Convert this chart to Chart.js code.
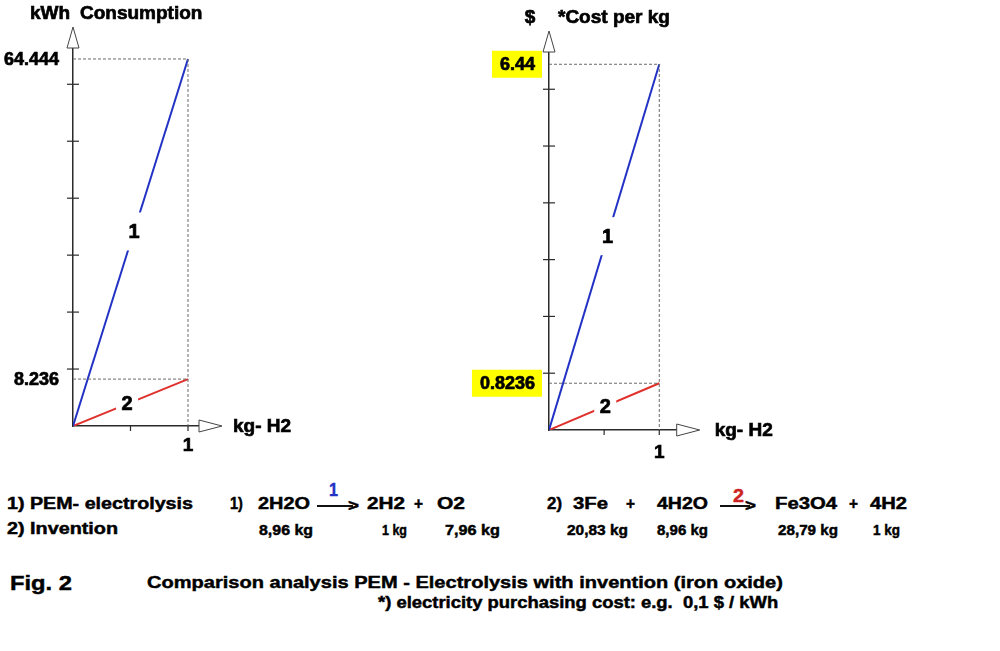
<!DOCTYPE html>
<html>
<head>
<meta charset="utf-8">
<script src="https://cdn.jsdelivr.net/npm/chart.js@4.4.1/dist/chart.umd.min.js"></script>
<style>
  html, body { margin: 0; padding: 0; background: #fff; }
  body { width: 1000px; height: 651px; position: relative; overflow: hidden; font-family: "Liberation Sans", Arial, sans-serif; }
  canvas { position: absolute; top: 0; }
  #kwhChart { left: 0; }
  #costChart { left: 460px; }
  .txt { position: absolute; white-space: pre; font-weight: bold; transform-origin: 0 50%; -webkit-text-stroke: 0.45px currentColor; }
  .shaft { position: absolute; height: 1.6px; background: #111; }
</style>
</head>
<body>
<canvas id="kwhChart" width="320" height="470"></canvas>
<canvas id="costChart" width="340" height="470"></canvas>

<script>
// values
const kgH2 = [0, 1];
const pemKwh = [0, 64.444];
const inventionKwh = [0, 8.236];
const pemCost = [0, 6.44];
const inventionCost = [0, 0.8236];
const kwhTicks = [10, 20, 30, 40, 50, 60];
const costTicks = [1, 2, 3, 4, 5, 6];
const kgTicks = [0.5, 1];
const kwhLabels = ["64.444", "8.236"];
const costLabels = ["6.44", "0.8236"];

const BLUE = "#2232c4";
const RED = "#e0302c";
const AXIS = "#2a2a2a";
const FONT = '"Liberation Sans", Arial, sans-serif';

// heavier text, the figure's lettering is quite thick
function boldText(ctx, text, x, y) {
  ctx.lineWidth = 0.7;
  ctx.strokeStyle = ctx.fillStyle;
  ctx.strokeText(text, x, y);
  ctx.fillText(text, x, y);
}

// draws the arrows, cross ticks, value labels and the "1"/"2" line labels
const sketchPlugin = {
  id: "sketch",
  afterDraw(chart, args, opts) {
    const ctx = chart.ctx;
    const xs = chart.scales.x, ys = chart.scales.y;
    const area = chart.chartArea;
    const x0 = xs.getPixelForValue(0), y0 = ys.getPixelForValue(0);

    ctx.save();
    ctx.strokeStyle = AXIS;
    ctx.lineWidth = 1.2;

    // y ticks crossing the axis
    opts.yTicks.forEach(v => {
      const y = ys.getPixelForValue(v);
      ctx.beginPath();
      ctx.moveTo(x0 - 6, y);
      ctx.lineTo(x0 + 6, y);
      ctx.stroke();
    });
    // x ticks below the axis
    kgTicks.forEach(v => {
      const x = xs.getPixelForValue(v);
      ctx.beginPath();
      ctx.moveTo(x, y0);
      ctx.lineTo(x, y0 + 5);
      ctx.stroke();
    });

    // open arrow heads
    ctx.fillStyle = "#fff";
    ctx.strokeStyle = "#444";
    ctx.lineWidth = 1;
    ctx.beginPath();
    ctx.moveTo(x0 - 6, area.top);
    ctx.lineTo(x0 + 6, area.top);
    ctx.lineTo(x0, area.top - 21);
    ctx.closePath();
    ctx.fill();
    ctx.stroke();
    ctx.beginPath();
    ctx.moveTo(area.right, y0 - 6);
    ctx.lineTo(area.right, y0 + 6);
    ctx.lineTo(area.right + 23, y0);
    ctx.closePath();
    ctx.fill();
    ctx.stroke();

    // value labels on the y axis
    ctx.font = "bold 18px " + FONT;
    ctx.textBaseline = "middle";
    ctx.textAlign = "right";
    opts.values.forEach((v, i) => {
      const y = ys.getPixelForValue(v);
      const right = x0 - 14;
      const w = ctx.measureText(opts.valueLabels[i]).width;
      if (opts.boxed) {
        ctx.fillStyle = "#ffff00";
        ctx.fillRect(right - w - 8, y - 13.5, w + 15, 27);
      }
      ctx.fillStyle = "#000";
      boldText(ctx, opts.valueLabels[i], right, y + 1);
    });

    // axis titles
    ctx.font = "bold 19px " + FONT;
    opts.titles.forEach(t => {
      ctx.textAlign = t.align || "left";
      boldText(ctx, t.text, t.x, t.y);
    });
    ctx.textAlign = "center";
    boldText(ctx, "1", xs.getPixelForValue(1), y0 + opts.oneGap);
    ctx.textAlign = "left";
    boldText(ctx, "kg- H2", area.right + 23 + opts.kgGap, y0 + 1);

    // line labels sitting in a gap of the line
    ctx.font = "bold 20px " + FONT;
    ctx.textAlign = "center";
    opts.lineLabels.forEach(l => {
      const pts = chart.getDatasetMeta(l.dataset).data;
      const px = pts[0].x + (pts[1].x - pts[0].x) * l.t;
      const py = pts[0].y + (pts[1].y - pts[0].y) * l.t;
      ctx.fillStyle = "#fff";
      ctx.fillRect(px - 11, py - 19, 22, 38);
      ctx.fillStyle = "#000";
      boldText(ctx, l.text, px, py + 1);
    });
    ctx.restore();
  }
};

function buildChart(id, pem, inv, cfg) {
  const guide = { borderColor: "#6a6a6a", borderWidth: 1, borderDash: [3, 2], pointRadius: 0, fill: false };
  const line = { borderWidth: 2, pointRadius: 0, fill: false, tension: 0 };
  const axis = {
    type: "linear",
    min: 0,
    ticks: { display: false },
    grid: { display: false, drawTicks: false },
    border: { display: true, color: AXIS, width: 1.5 }
  };
  return new Chart(document.getElementById(id).getContext("2d"), {
    type: "line",
    data: {
      datasets: [
        Object.assign({ data: [{ x: 0, y: pem[1] }, { x: kgH2[1], y: pem[1] }, { x: kgH2[1], y: 0 }] }, guide),
        Object.assign({ data: [{ x: 0, y: inv[1] }, { x: kgH2[1], y: inv[1] }] }, guide),
        Object.assign({ label: "1", data: kgH2.map((x, i) => ({ x: x, y: pem[i] })), borderColor: BLUE }, line),
        Object.assign({ label: "2", data: kgH2.map((x, i) => ({ x: x, y: inv[i] })), borderColor: RED }, line)
      ]
    },
    options: {
      responsive: false,
      animation: false,
      events: [],
      layout: { padding: cfg.padding },
      plugins: {
        legend: { display: false },
        tooltip: { enabled: false },
        sketch: Object.assign({ values: [pem[1], inv[1]] }, cfg)
      },
      scales: {
        x: Object.assign({}, axis, { max: cfg.xMax }),
        y: Object.assign({}, axis, { max: cfg.yMax })
      }
    },
    plugins: [sketchPlugin]
  });
}

buildChart("kwhChart", pemKwh, inventionKwh, {
  padding: { left: 73, top: 48, right: 121, bottom: 44 },
  xMax: 1.0957, yMax: 66.37,
  yTicks: kwhTicks, valueLabels: kwhLabels, boxed: false,
  titles: [{ text: "kWh", x: 30, y: 14 }, { text: "Consumption", x: 80, y: 14 }],
  oneGap: 20, kgGap: 11,
  lineLabels: [{ dataset: 2, text: "1", t: 0.53 }, { dataset: 3, text: "2", t: 0.47 }]
});

buildChart("costChart", pemCost, inventionCost, {
  padding: { left: 89, top: 52, right: 123.3, bottom: 40 },
  xMax: 1.158, yMax: 6.656,
  yTicks: costTicks, valueLabels: costLabels, boxed: true,
  titles: [{ text: "$", x: 70, y: 18, align: "center" }, { text: "*Cost per kg", x: 98, y: 18 }],
  oneGap: 23, kgGap: 15,
  lineLabels: [{ dataset: 2, text: "1", t: 0.53 }, { dataset: 3, text: "2", t: 0.51 }]
});

// reaction equations and caption, each stretched to the width it has in the figure
const notes = [
  ["1) PEM- electrolysis", 7, 193, 504, 16],
  ["2) Invention", 7, 118, 529, 16],
  ["1)", 230, 243, 504, 16],
  ["2H2O", 258, 310, 504, 16],
  ["1", 329, 338, 490, 18, BLUE],
  [">", 348, 359, 506, 17],
  ["2H2", 367, 405, 504, 16],
  ["+", 414, 423, 504, 16],
  ["O2", 437, 465, 504, 16],
  ["8,96 kg", 259, 313, 530, 14],
  ["1 kg", 382, 407, 530, 14],
  ["7,96 kg", 445, 500, 530, 14],
  ["2)", 547, 562, 504, 16],
  ["3Fe", 573, 608, 504, 16],
  ["+", 626, 635, 504, 16],
  ["4H2O", 657, 708, 504, 16],
  ["2", 733, 744, 496, 18, "#cc2222"],
  [">", 745, 756, 506, 17],
  ["Fe3O4", 775, 837, 504, 16],
  ["+", 849, 858, 504, 16],
  ["4H2", 870, 907, 504, 16],
  ["20,83 kg", 567, 628, 530, 14],
  ["8,96 kg", 657, 708, 530, 14],
  ["28,79 kg", 778, 838, 530, 14],
  ["1 kg", 873, 900, 530, 14],
  ["Fig. 2", 10, 72, 583, 21],
  ["Comparison analysis PEM - Electrolysis with invention (iron oxide)", 147, 783, 583, 17],
  ["*) electricity purchasing cost: e.g.  0,1 $ / kWh", 378, 778, 603, 16]
];

notes.forEach(n => {
  const el = document.createElement("div");
  el.className = "txt";
  el.textContent = n[0];
  const lh = n[4] * 1.15;
  el.style.font = "bold " + n[4] + "px " + FONT;
  el.style.lineHeight = lh + "px";
  el.style.left = n[1] + "px";
  el.style.top = (n[3] - lh / 2) + "px";
  el.style.color = n[5] || "#000";
  document.body.appendChild(el);
  const w = el.getBoundingClientRect().width;
  el.style.transform = "scaleX(" + ((n[2] - n[1]) / w).toFixed(3) + ")";
});

// arrow shafts of the two reactions
[[317, 353, 506], [720, 750, 506]].forEach(a => {
  const s = document.createElement("div");
  s.className = "shaft";
  s.style.left = a[0] + "px";
  s.style.width = (a[1] - a[0]) + "px";
  s.style.top = (a[2] - 0.8) + "px";
  document.body.appendChild(s);
});
</script>
</body>
</html>
